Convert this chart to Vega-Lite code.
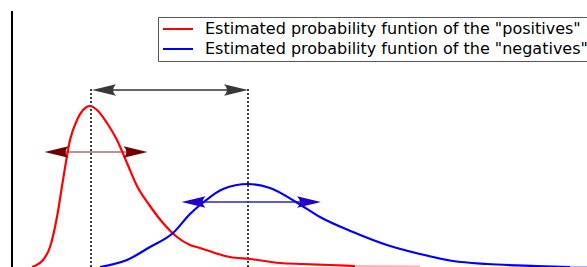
{
  "$schema": "https://vega.github.io/schema/vega-lite/v6.json",
  "width": 587,
  "height": 267,
  "autosize": {"type": "none"},
  "padding": 0,
  "background": "white",
  "config": {"view": {"stroke": null}},
  "layer": [
    {
      "data": {"values": [{"x": 12, "h0": 0, "h1": 256}]},
      "mark": {"type": "rule", "color": "#000000", "strokeWidth": 2},
      "encoding": {
        "x": {"field": "x", "type": "quantitative", "scale": {"domain": [0, 587], "nice": false, "zero": false}, "axis": null},
        "y": {"field": "h0", "type": "quantitative", "scale": {"domain": [0, 267], "nice": false, "zero": false}, "axis": null},
        "y2": {"field": "h1"}
      }
    },
    {
      "data": {"values": [{"x": 91, "h0": 0, "h1": 178}, {"x": 248, "h0": 0, "h1": 178}]},
      "mark": {"type": "rule", "color": "#000000", "strokeWidth": 1.5, "strokeDash": [2, 2]},
      "encoding": {
        "x": {"field": "x", "type": "quantitative"},
        "y": {"field": "h0", "type": "quantitative"},
        "y2": {"field": "h1"}
      }
    },
    {
      "data": {"values": [
        {"arrow": "gap", "x0": 104, "x1": 236, "h": 177},
        {"arrow": "red", "x0": 56, "x1": 136, "h": 115},
        {"arrow": "blue", "x0": 193, "x1": 309, "h": 65}
      ]},
      "mark": {"type": "rule", "strokeWidth": 1.5},
      "encoding": {
        "x": {"field": "x0", "type": "quantitative"},
        "x2": {"field": "x1"},
        "y": {"field": "h", "type": "quantitative"},
        "stroke": {"field": "arrow", "type": "nominal", "scale": {"domain": ["gap", "red", "blue"], "range": ["#333333", "#b06a6a", "#2626d0"]}, "legend": null},
        "strokeWidth": {"field": "arrow", "type": "nominal", "scale": {"domain": ["gap", "red", "blue"], "range": [1.2, 2.2, 1.5]}, "legend": null}
      }
    },
    {
      "data": {"values": [
        {"s": "positives", "x": 32, "h": 0}, {"s": "positives", "x": 43, "h": 7}, {"s": "positives", "x": 50, "h": 20},
        {"s": "positives", "x": 57, "h": 50}, {"s": "positives", "x": 63, "h": 87}, {"s": "positives", "x": 70, "h": 127},
        {"s": "positives", "x": 77, "h": 147}, {"s": "positives", "x": 83, "h": 157}, {"s": "positives", "x": 90, "h": 161},
        {"s": "positives", "x": 97, "h": 157}, {"s": "positives", "x": 107, "h": 144}, {"s": "positives", "x": 117, "h": 127},
        {"s": "positives", "x": 127, "h": 104}, {"s": "positives", "x": 137, "h": 81}, {"s": "positives", "x": 150, "h": 61},
        {"s": "positives", "x": 163, "h": 44}, {"s": "positives", "x": 177, "h": 30}, {"s": "positives", "x": 190, "h": 22},
        {"s": "positives", "x": 200, "h": 19}, {"s": "positives", "x": 215, "h": 14}, {"s": "positives", "x": 230, "h": 10},
        {"s": "positives", "x": 250, "h": 8}, {"s": "positives", "x": 280, "h": 4}, {"s": "positives", "x": 303, "h": 3},
        {"s": "positives", "x": 330, "h": 2}, {"s": "positives", "x": 355, "h": 1},
        {"s": "negatives", "x": 100, "h": 0}, {"s": "negatives", "x": 127, "h": 7}, {"s": "negatives", "x": 150, "h": 20},
        {"s": "negatives", "x": 173, "h": 34}, {"s": "negatives", "x": 190, "h": 53}, {"s": "negatives", "x": 205, "h": 66},
        {"s": "negatives", "x": 223, "h": 78}, {"s": "negatives", "x": 248, "h": 83}, {"s": "negatives", "x": 270, "h": 79},
        {"s": "negatives", "x": 296, "h": 65}, {"s": "negatives", "x": 320, "h": 50}, {"s": "negatives", "x": 353, "h": 35},
        {"s": "negatives", "x": 387, "h": 22}, {"s": "negatives", "x": 420, "h": 13}, {"s": "negatives", "x": 453, "h": 6},
        {"s": "negatives", "x": 487, "h": 3}, {"s": "negatives", "x": 537, "h": 1}, {"s": "negatives", "x": 570, "h": 0}
      ]},
      "mark": {"type": "line", "strokeWidth": 2.2, "interpolate": "monotone"},
      "encoding": {
        "x": {"field": "x", "type": "quantitative"},
        "y": {"field": "h", "type": "quantitative"},
        "color": {
          "field": "s", "type": "nominal",
          "scale": {"domain": ["positives", "negatives"], "range": ["#ff0000", "#0000ff"]},
          "legend": {
            "title": null,
            "orient": "none",
            "legendX": 158,
            "legendY": 17,
            "padding": 4,
            "strokeColor": "#555555",
            "fillColor": "#ffffff",
            "cornerRadius": 0,
            "symbolType": "M-2.14,0H2.14",
            "symbolSize": 196,
            "symbolStrokeWidth": 2,
            "symbolOffset": 8,
            "labelOffset": 19,
            "labelFont": "DejaVu Sans",
            "labelFontSize": 16,
            "labelColor": "#000000",
            "labelLimit": 0,
            "rowPadding": 4,
            "labelExpr": "'Estimated probability funtion of the \"' + datum.value + '\"'"
          }
        }
      }
    },
    {
      "data": {"values": [{"x": 355, "h": 1}, {"x": 390, "h": 0.6}, {"x": 420, "h": 0.3}]},
      "mark": {"type": "line", "color": "#ff0000", "opacity": 0.3, "strokeWidth": 2.2},
      "encoding": {
        "x": {"field": "x", "type": "quantitative"},
        "y": {"field": "h", "type": "quantitative"}
      }
    },
    {
      "data": {"values": [{"x": 570, "h": 0}, {"x": 587, "h": 0}]},
      "mark": {"type": "line", "color": "#0000ff", "opacity": 0.3, "strokeWidth": 2.2},
      "encoding": {
        "x": {"field": "x", "type": "quantitative"},
        "y": {"field": "h", "type": "quantitative"}
      }
    },
    {
      "data": {"values": [
        {"arrow": "gap", "dir": "left", "x": 104, "h": 177},
        {"arrow": "gap", "dir": "right", "x": 236, "h": 177},
        {"arrow": "red", "dir": "left", "x": 56.5, "h": 115},
        {"arrow": "red", "dir": "right", "x": 135.5, "h": 115},
        {"arrow": "blue", "dir": "left", "x": 193.5, "h": 65},
        {"arrow": "blue", "dir": "right", "x": 309, "h": 65}
      ]},
      "mark": {"type": "point", "filled": true, "size": 576, "opacity": 1, "strokeWidth": 0},
      "encoding": {
        "x": {"field": "x", "type": "quantitative"},
        "y": {"field": "h", "type": "quantitative"},
        "shape": {"field": "dir", "type": "nominal", "scale": {"domain": ["left", "right"], "range": ["M-1,0L1,-0.48Q0.5,0,1,0.48Z", "M1,0L-1,-0.48Q-0.5,0,-1,0.48Z"]}, "legend": null},
        "fill": {"field": "arrow", "type": "nominal", "scale": {"domain": ["gap", "red", "blue"], "range": ["#383838", "#700000", "#2200cc"]}, "legend": null}
      }
    }
  ]
}
